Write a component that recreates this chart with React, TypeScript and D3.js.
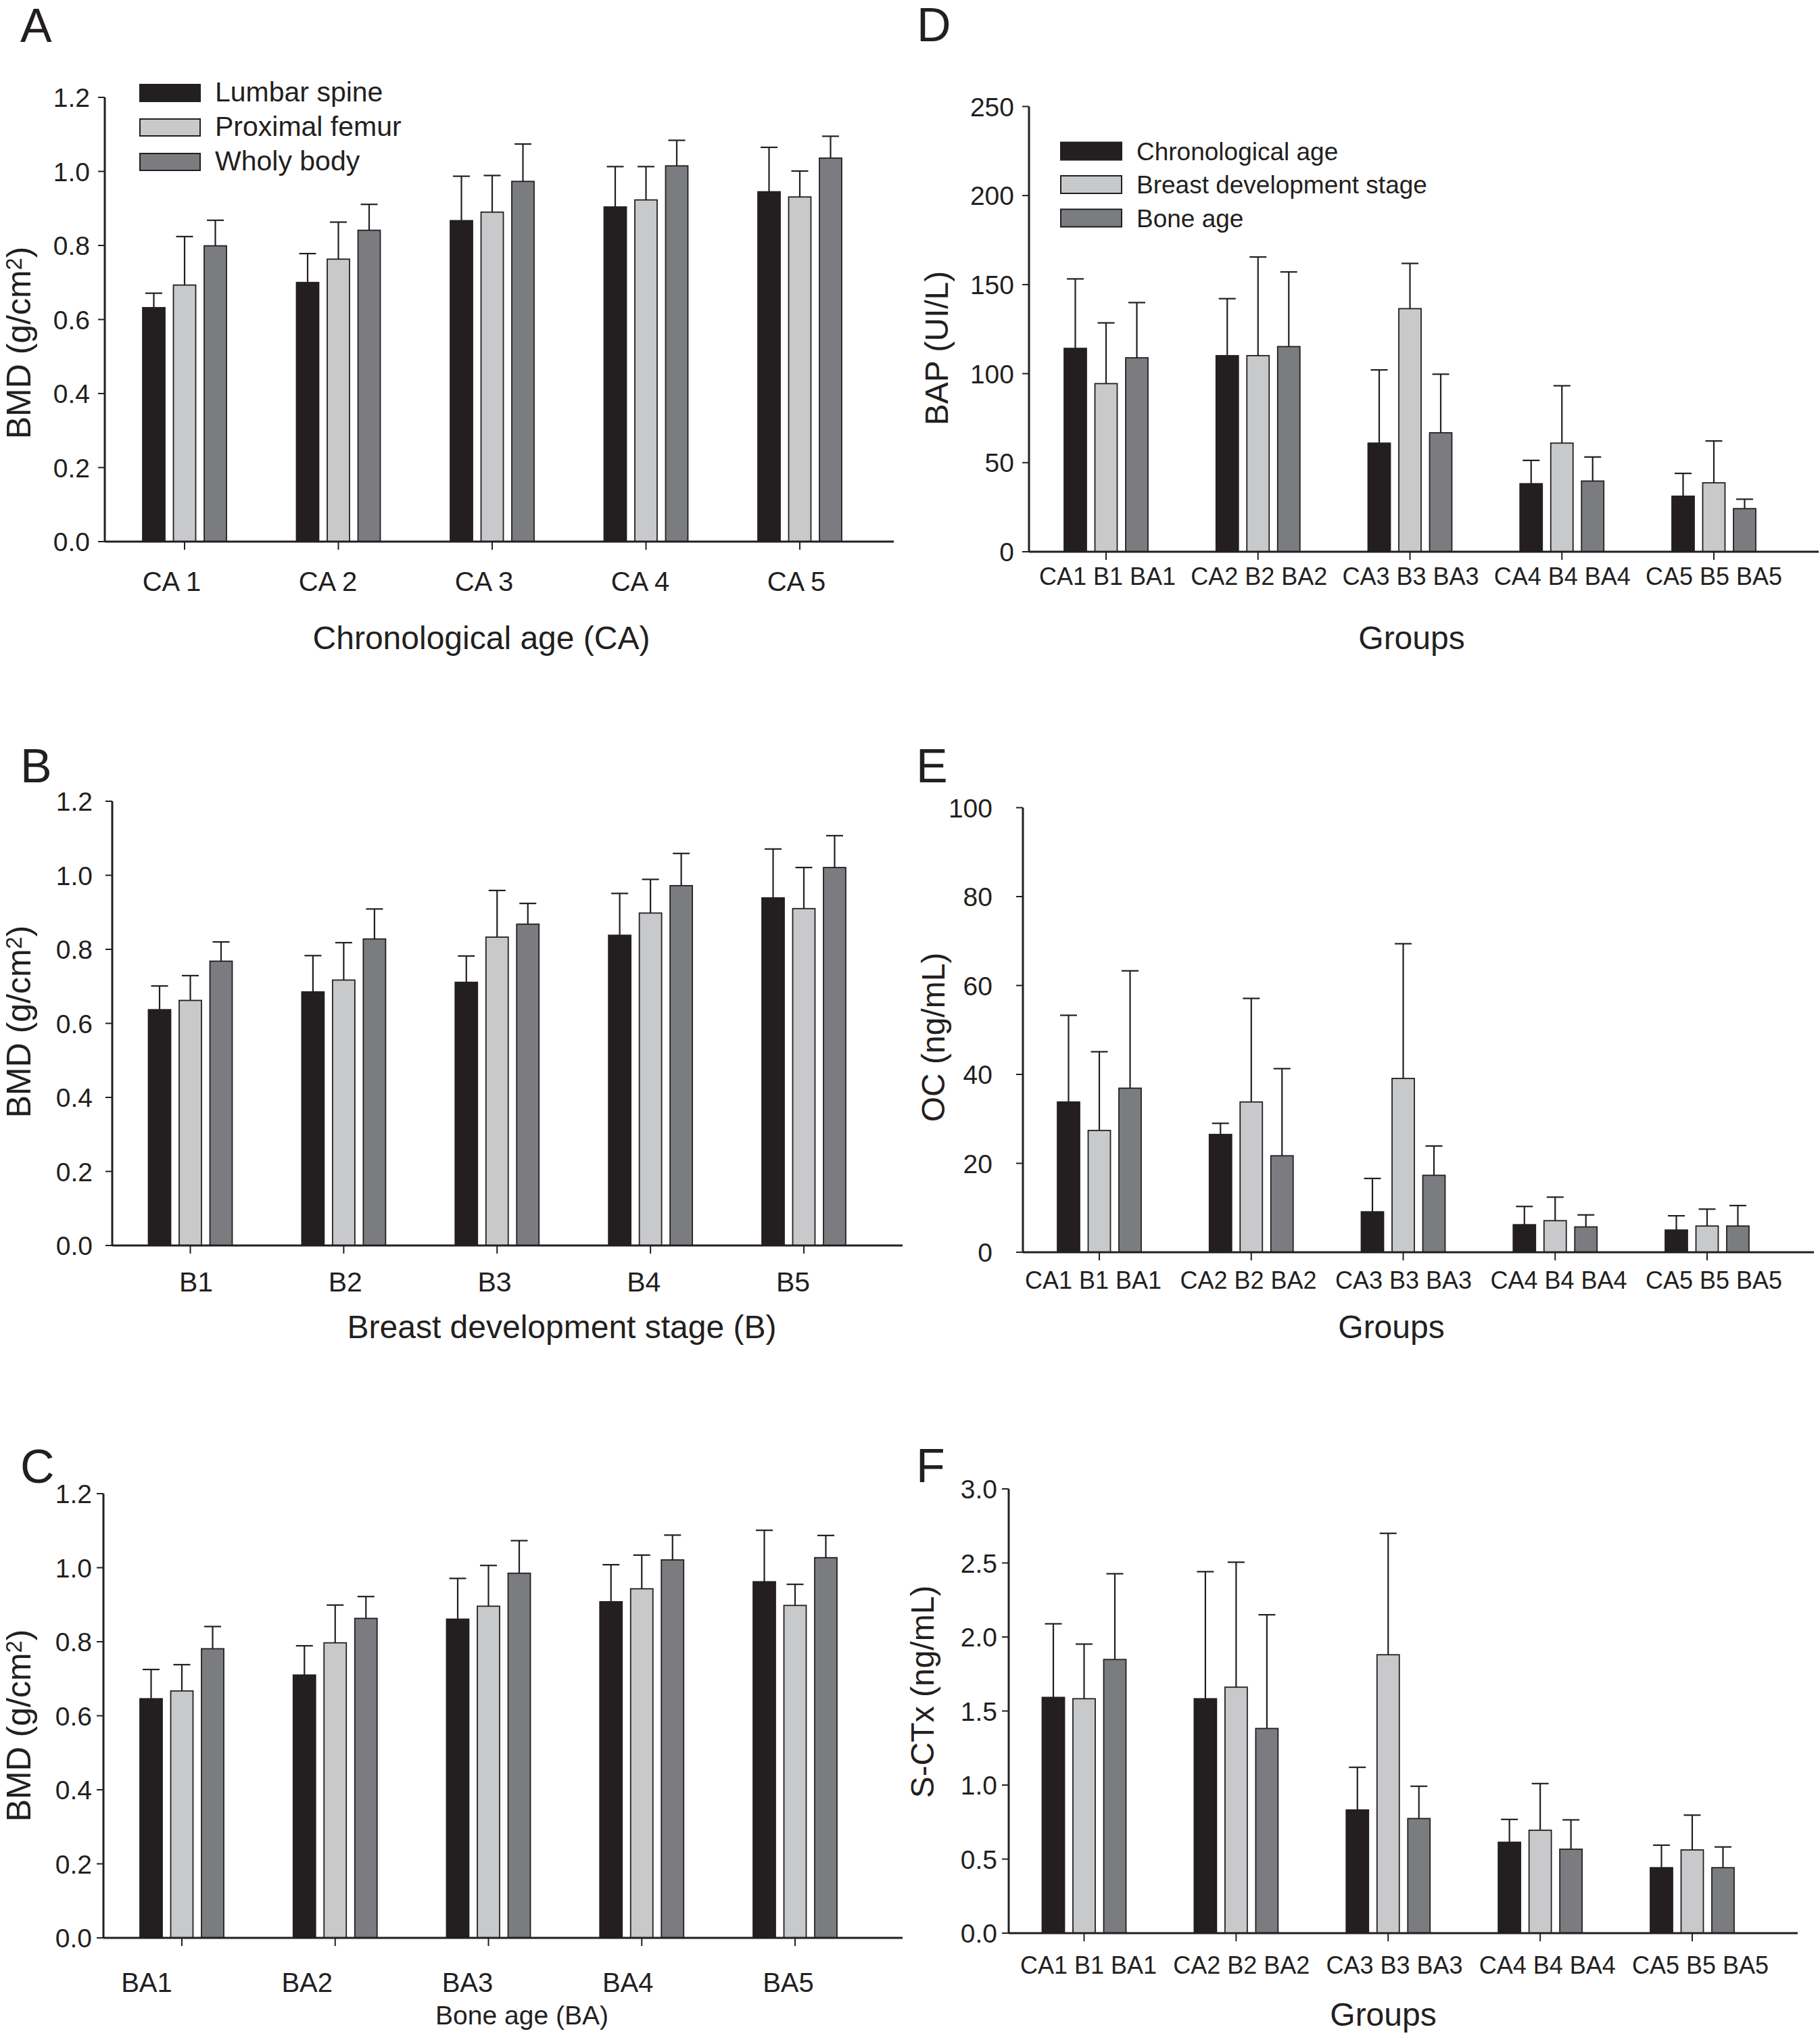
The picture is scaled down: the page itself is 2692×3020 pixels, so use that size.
import { useEffect } from 'react'
import * as d3 from 'd3'

// series + group labels
const bmdSeries = ['Lumbar spine', 'Proximal femur', 'Wholy body']
const markerSeries = ['Chronological age', 'Breast development stage', 'Bone age']
const caGroups = ['CA 1', 'CA 2', 'CA 3', 'CA 4', 'CA 5']
const bGroups = ['B1', 'B2', 'B3', 'B4', 'B5']
const baGroups = ['BA1', 'BA2', 'BA3', 'BA4', 'BA5']
const markerGroups = ['CA1 B1 BA1', 'CA2 B2 BA2', 'CA3 B3 BA3', 'CA4 B4 BA4', 'CA5 B5 BA5']

// A: BMD by chronological age (mean, sd)
const caLumbar = [0.632, 0.700, 0.867, 0.904, 0.945]
const caLumbarSd = [0.039, 0.078, 0.120, 0.109, 0.120]
const caFemur = [0.693, 0.763, 0.890, 0.923, 0.931]
const caFemurSd = [0.131, 0.100, 0.099, 0.090, 0.070]
const caBody = [0.799, 0.841, 0.973, 1.015, 1.036]
const caBodySd = [0.069, 0.070, 0.101, 0.069, 0.059]

// B: BMD by breast development stage
const bLumbar = [0.637, 0.685, 0.711, 0.838, 0.939]
const bLumbarSd = [0.064, 0.098, 0.071, 0.113, 0.132]
const bFemur = [0.662, 0.717, 0.833, 0.898, 0.910]
const bFemurSd = [0.067, 0.101, 0.126, 0.091, 0.111]
const bBody = [0.768, 0.828, 0.868, 0.972, 1.021]
const bBodySd = [0.052, 0.081, 0.056, 0.087, 0.086]

// C: BMD by bone age
const baLumbar = [0.646, 0.710, 0.861, 0.908, 0.962]
const baLumbarSd = [0.079, 0.079, 0.110, 0.100, 0.139]
const baFemur = [0.667, 0.797, 0.896, 0.943, 0.898]
const baFemurSd = [0.071, 0.102, 0.110, 0.091, 0.057]
const baBody = [0.781, 0.863, 0.985, 1.021, 1.027]
const baBodySd = [0.060, 0.059, 0.088, 0.067, 0.060]

// D: BAP (UI/L)
const bapCA = [114.2, 110.1, 61.0, 38.2, 31.2]
const bapCASd = [39.0, 32.0, 41.1, 13.1, 12.8]
const bapB = [94.4, 110.1, 136.5, 61.0, 38.7]
const bapBSd = [34.1, 55.4, 25.4, 32.2, 23.5]
const bapBA = [108.9, 115.2, 66.8, 39.7, 24.2]
const bapBASd = [31.0, 41.9, 32.9, 13.5, 5.3]

// E: OC (ng/mL)
const ocCA = [33.8, 26.5, 9.1, 6.2, 5.0]
const ocCASd = [19.5, 2.5, 7.5, 4.1, 3.2]
const ocB = [27.4, 33.8, 39.1, 7.1, 5.9]
const ocBSd = [17.7, 23.3, 30.3, 5.3, 3.8]
const ocBA = [36.9, 21.7, 17.3, 5.7, 5.9]
const ocBASd = [26.4, 19.6, 6.6, 2.7, 4.6]

// F: S-CTx (ng/mL)
const ctxCA = [1.592, 1.583, 0.832, 0.614, 0.442]
const ctxCASd = [0.497, 0.858, 0.288, 0.154, 0.152]
const ctxB = [1.583, 1.661, 1.880, 0.695, 0.562]
const ctxBSd = [0.369, 0.844, 0.820, 0.315, 0.235]
const ctxBA = [1.848, 1.382, 0.774, 0.567, 0.442]
const ctxBASd = [0.579, 0.768, 0.218, 0.198, 0.140]

const INK = '#231f20'
const FILLS = ['#231f20', '#c8c9cb', '#7b7c80']
const FONT = '"Liberation Sans", Arial, Helvetica, sans-serif'

const bmdTitle = (
  <>
    BMD (g/cm<tspan dy="-0.4em" fontSize="0.65em">2</tspan>
    <tspan dy="0.26em">)</tspan>
  </>
)

const panels = [
  {
    letter: 'A', letterX: 30, letterY: 62,
    series: bmdSeries, groups: caGroups,
    means: [caLumbar, caFemur, caBody], sds: [caLumbarSd, caFemurSd, caBodySd],
    yMax: 1.2, nTicks: 6, fmt: '.1f',
    axisX: 155, axisRight: 1322, y0: 801, yTop: 144, c0: 273, c4: 1183,
    lab0: 254, lab4: 1178, labY: 874, labFont: 40, tickGap: 22,
    xTitle: 'Chronological age (CA)', xTitleX: 712, xTitleY: 960, xTitleFont: 48,
    yTitle: bmdTitle, yTitleX: 45, yTitleY: 507, yTitleFont: 50,
    legend: { x: 207, y: 125, step: 51, w: 89, h: 25, tx: 318, font: 41 },
  },
  {
    letter: 'B', letterX: 30, letterY: 1157,
    series: bmdSeries, groups: bGroups,
    means: [bLumbar, bFemur, bBody], sds: [bLumbarSd, bFemurSd, bBodySd],
    yMax: 1.2, nTicks: 6, fmt: '.1f',
    axisX: 166, axisRight: 1335, y0: 1842, yTop: 1185, c0: 281.5, c4: 1189,
    lab0: 290, lab4: 1173, labY: 1910, labFont: 41, tickGap: 29,
    xTitle: 'Breast development stage (B)', xTitleX: 831, xTitleY: 1979, xTitleFont: 48,
    yTitle: bmdTitle, yTitleX: 45, yTitleY: 1511, yTitleFont: 50,
  },
  {
    letter: 'C', letterX: 30, letterY: 2193,
    series: bmdSeries, groups: baGroups,
    means: [baLumbar, baFemur, baBody], sds: [baLumbarSd, baFemurSd, baBodySd],
    yMax: 1.2, nTicks: 6, fmt: '.1f',
    axisX: 153, axisRight: 1335, y0: 2866, yTop: 2209, c0: 269, c4: 1176,
    lab0: 217, lab4: 1166, labY: 2946, labFont: 40, tickGap: 17,
    xTitle: 'Bone age (BA)', xTitleX: 772, xTitleY: 2994, xTitleFont: 39,
    yTitle: bmdTitle, yTitleX: 45, yTitleY: 2552, yTitleFont: 50,
  },
  {
    letter: 'D', letterX: 1356, letterY: 61,
    series: markerSeries, groups: markerGroups,
    means: [bapCA, bapB, bapBA], sds: [bapCASd, bapBSd, bapBASd],
    yMax: 250, nTicks: 5, fmt: 'd',
    axisX: 1522, axisRight: 2690, y0: 816, yTop: 157.5, c0: 1636, c4: 2535,
    lab0: 1638, lab4: 2535, labY: 865, labFont: 36, tickGap: 22,
    xTitle: 'Groups', xTitleX: 2088, xTitleY: 960, xTitleFont: 48,
    yTitle: 'BAP (UI/L)', yTitleX: 1402, yTitleY: 515, yTitleFont: 48,
    legend: { x: 1569, y: 210.5, step: 49.5, w: 90, h: 26, tx: 1681, font: 37 },
  },
  {
    letter: 'E', letterX: 1355, letterY: 1157,
    series: markerSeries, groups: markerGroups,
    means: [ocCA, ocB, ocBA], sds: [ocCASd, ocBSd, ocBASd],
    yMax: 100, nTicks: 5, fmt: 'd',
    axisX: 1513, axisRight: 2683, y0: 1852, yTop: 1194.5, c0: 1626, c4: 2525,
    lab0: 1617, lab4: 2535, labY: 1906, labFont: 36, tickGap: 45,
    xTitle: 'Groups', xTitleX: 2058, xTitleY: 1979, xTitleFont: 48,
    yTitle: 'OC (ng/mL)', yTitleX: 1397, yTitleY: 1534, yTitleFont: 48,
  },
  {
    letter: 'F', letterX: 1355, letterY: 2192,
    series: markerSeries, groups: markerGroups,
    means: [ctxCA, ctxB, ctxBA], sds: [ctxCASd, ctxBSd, ctxBASd],
    yMax: 3, nTicks: 6, fmt: '.1f',
    axisX: 1492, axisRight: 2659, y0: 2859, yTop: 2202, c0: 1603.5, c4: 2503,
    lab0: 1610, lab4: 2515, labY: 2919, labFont: 36, tickGap: 17,
    xTitle: 'Groups', xTitleX: 2046, xTitleY: 2996, xTitleFont: 48,
    yTitle: 'S-CTx (ng/mL)', yTitleX: 1381, yTitleY: 2502, yTitleFont: 48,
  },
]

type P = (typeof panels)[number]

function BarPanel({ p }: { p: P }) {
  const y = d3.scaleLinear().domain([0, p.yMax]).range([p.y0, p.yTop])
  const step = (p.c4 - p.c0) / 4
  const x0 = d3.scaleBand().domain(p.groups).range([p.c0 - step / 2, p.c4 + step / 2])
  const x1 = d3.scaleBand().domain(p.series).range([-68.25, 68.25]).paddingInner(0.275).paddingOuter(0.1375)
  const xl = d3.scalePoint().domain(p.groups).range([p.lab0, p.lab4])
  const fmt = d3.format(p.fmt)
  const bw = x1.bandwidth()
  const capHalf = 12.5
  const center = (g: string) => x0(g)! + x0.bandwidth() / 2

  return (
    <g>
      <text x={p.letterX} y={p.letterY} fontSize={70} fill={INK}>{p.letter}</text>

      {p.legend && p.series.map((s, i) => (
        <g key={s}>
          <rect x={p.legend!.x} y={p.legend!.y + i * p.legend!.step} width={p.legend!.w} height={p.legend!.h}
            fill={FILLS[i]} stroke={INK} strokeWidth={2} />
          <text x={p.legend!.tx} y={p.legend!.y + i * p.legend!.step + p.legend!.h} fontSize={p.legend!.font} fill={INK}>{s}</text>
        </g>
      ))}

      {/* bars */}
      {p.series.map((s, si) => p.groups.map((g, gi) => {
        const cx = center(g) + x1(s)!
        const m = p.means[si][gi]
        return (
          <rect key={s + g} x={cx} y={y(m)} width={bw} height={y(0) - y(m)}
            fill={FILLS[si]} stroke={INK} strokeWidth={1.8} />
        )
      }))}

      {/* error bars */}
      {p.series.map((s, si) => p.groups.map((g, gi) => {
        const mx = center(g) + x1(s)! + bw / 2
        const m = p.means[si][gi]
        const top = m + p.sds[si][gi]
        return (
          <g key={'e' + s + g} stroke={INK} strokeWidth={2.2}>
            <line x1={mx} x2={mx} y1={y(m)} y2={y(top)} />
            <line x1={mx - capHalf} x2={mx + capHalf} y1={y(top)} y2={y(top)} />
          </g>
        )
      }))}

      {/* y axis */}
      <line x1={p.axisX} x2={p.axisX} y1={p.y0} y2={p.yTop} stroke={INK} strokeWidth={3} />
      {y.ticks(p.nTicks).map(t => (
        <g key={t}>
          <line x1={p.axisX - 10} x2={p.axisX} y1={y(t)} y2={y(t)} stroke={INK} strokeWidth={2} />
          <text x={p.axisX - p.tickGap} y={y(t)} dy="0.36em" textAnchor="end" fontSize={39} fill={INK}>{fmt(t)}</text>
        </g>
      ))}

      {/* x axis */}
      <line x1={p.axisX} x2={p.axisRight} y1={p.y0} y2={p.y0} stroke={INK} strokeWidth={3} />
      {p.groups.map(g => (
        <g key={g}>
          <line x1={center(g)} x2={center(g)} y1={p.y0} y2={p.y0 + 12} stroke={INK} strokeWidth={2} />
          <text x={xl(g)} y={p.labY} textAnchor="middle" fontSize={p.labFont} fill={INK}>{g}</text>
        </g>
      ))}

      <text x={p.xTitleX} y={p.xTitleY} textAnchor="middle" fontSize={p.xTitleFont} fill={INK}>{p.xTitle}</text>
      <text transform={`translate(${p.yTitleX},${p.yTitleY}) rotate(-90)`} textAnchor="middle"
        fontSize={p.yTitleFont} fill={INK}>{p.yTitle}</text>
    </g>
  )
}

export default function App() {
  useEffect(() => {
    document.body.style.margin = '0'
  }, [])

  return (
    <svg width={2692} height={3020} viewBox="0 0 2692 3020" style={{ display: 'block', background: '#fff' }}
      fontFamily={FONT}>
      <rect width={2692} height={3020} fill="#fff" />
      {panels.map(p => <BarPanel key={p.letter} p={p} />)}
    </svg>
  )
}
